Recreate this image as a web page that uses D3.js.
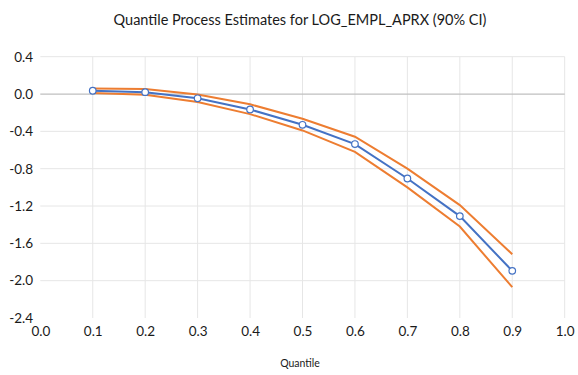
<!DOCTYPE html>
<html><head><meta charset="utf-8">
<script src="https://cdn.jsdelivr.net/npm/d3@7"></script>
<style>body{margin:0;background:#fff}</style>
</head><body>
<script>
const quantiles = [0.1,0.2,0.3,0.4,0.5,0.6,0.7,0.8,0.9];
const estimate = [0.035,0.02,-0.046,-0.165,-0.33,-0.536,-0.905,-1.308,-1.895];
const upperCI = [0.06,0.055,-0.005,-0.11,-0.265,-0.458,-0.8,-1.19,-1.716];
const lowerCI = [0.012,-0.007,-0.086,-0.215,-0.39,-0.62,-1.0,-1.42,-2.07];
const xTicks = [0,0.1,0.2,0.3,0.4,0.5,0.6,0.7,0.8,0.9,1.0];
const yTicks = [0.4,0.0,-0.4,-0.8,-1.2,-1.6,-2.0,-2.4];

const W=578,H=375;
const svg=d3.select("body").append("svg").attr("width",W).attr("height",H);
const x=d3.scaleLinear().domain([0,1]).range([40.3,564.7]);
const y=d3.scaleLinear().domain([-2.4,0.4]).range([318,56.7]);
const font="Lato, 'Open Sans', sans-serif";

svg.append("g").selectAll("line").data(xTicks.slice(1)).join("line")
 .attr("x1",d=>x(d)).attr("x2",d=>x(d)).attr("y1",y(0.4)).attr("y2",y(-2.4))
 .attr("stroke","#e6e6e6").attr("stroke-width",1);
svg.append("g").selectAll("line").data(yTicks.filter(d=>d!==0 && d!==-2.4)).join("line")
 .attr("x1",x(0)).attr("x2",x(1)).attr("y1",d=>y(d)).attr("y2",d=>y(d))
 .attr("stroke","#e6e6e6").attr("stroke-width",1);
svg.append("line").attr("x1",x(0)).attr("x2",x(1)).attr("y1",y(0)).attr("y2",y(0))
 .attr("stroke","#bfbfbf").attr("stroke-width",1.3);

const yAxis=d3.axisLeft(y).tickValues(yTicks).tickFormat(d3.format(".1f")).tickSize(0).tickPadding(0);
const gy=svg.append("g").attr("transform","translate(33,0)").call(yAxis);
gy.select(".domain").remove();
gy.selectAll("text").attr("font-family",font).attr("font-size",13.5).attr("fill","#1a1a1a")
 .text(d=>d3.format(".1f")(d).replace("−","-"));

const xAxis=d3.axisBottom(x).tickValues(xTicks).tickFormat(d3.format(".1f")).tickSize(0).tickPadding(0);
const gx=svg.append("g").attr("transform","translate(0,326.5)").call(xAxis);
gx.select(".domain").remove();
gx.selectAll("text").attr("font-family",font).attr("font-size",13.5).attr("fill","#1a1a1a");

const line=d3.line().x((d,i)=>x(quantiles[i])).y(d=>y(d));
svg.append("path").attr("d",line(upperCI)).attr("fill","none").attr("stroke","#ED7D31").attr("stroke-width",2);
svg.append("path").attr("d",line(lowerCI)).attr("fill","none").attr("stroke","#ED7D31").attr("stroke-width",2);
svg.append("path").attr("d",line(estimate)).attr("fill","none").attr("stroke","#4472C4").attr("stroke-width",2);
svg.append("g").selectAll("circle").data(estimate).join("circle")
 .attr("cx",(d,i)=>x(quantiles[i])).attr("cy",d=>y(d)).attr("r",3.3)
 .attr("fill","#fff").attr("stroke","#4472C4").attr("stroke-width",1.2);

svg.append("text").attr("x",300).attr("y",25).attr("text-anchor","middle")
 .attr("font-family",font).attr("font-size",14.5).attr("fill","#1a1a1a")
 .text("Quantile Process Estimates for LOG_EMPL_APRX (90% CI)");
svg.append("text").attr("x",300).attr("y",367).attr("text-anchor","middle")
 .attr("font-family",font).attr("font-size",10.5).attr("fill","#1a1a1a")
 .text("Quantile");
</script>
</body></html>
